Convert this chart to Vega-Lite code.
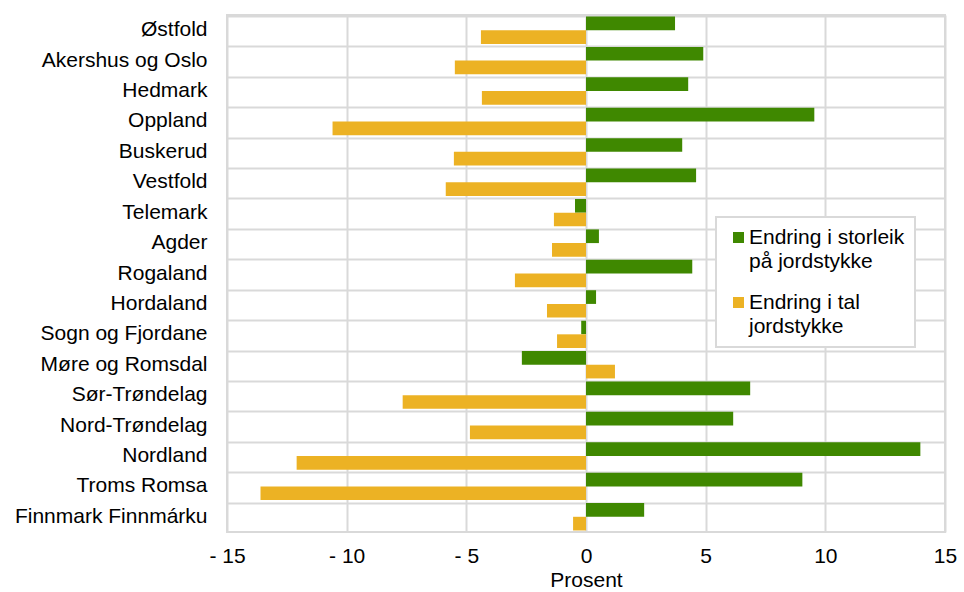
{
  "$schema": "https://vega.github.io/schema/vega-lite/v6.json",
  "width": 718,
  "height": 517,
  "autosize": "none",
  "padding": {"left": 227, "top": 15, "right": 19, "bottom": 60},
  "background": "white",
  "config": {
    "font": "Liberation Sans",
    "view": {"stroke": "#d9d9d9", "strokeWidth": 2}
  },
  "data": {
    "values": [
      {"fylke": "Østfold", "serie": "Endring i storleik på jordstykke", "v": 3.72},
      {"fylke": "Østfold", "serie": "Endring i tal jordstykke", "v": -4.39},
      {"fylke": "Akershus og Oslo", "serie": "Endring i storleik på jordstykke", "v": 4.9},
      {"fylke": "Akershus og Oslo", "serie": "Endring i tal jordstykke", "v": -5.48},
      {"fylke": "Hedmark", "serie": "Endring i storleik på jordstykke", "v": 4.27},
      {"fylke": "Hedmark", "serie": "Endring i tal jordstykke", "v": -4.35},
      {"fylke": "Oppland", "serie": "Endring i storleik på jordstykke", "v": 9.54},
      {"fylke": "Oppland", "serie": "Endring i tal jordstykke", "v": -10.59},
      {"fylke": "Buskerud", "serie": "Endring i storleik på jordstykke", "v": 4.02},
      {"fylke": "Buskerud", "serie": "Endring i tal jordstykke", "v": -5.52},
      {"fylke": "Vestfold", "serie": "Endring i storleik på jordstykke", "v": 4.6},
      {"fylke": "Vestfold", "serie": "Endring i tal jordstykke", "v": -5.86},
      {"fylke": "Telemark", "serie": "Endring i storleik på jordstykke", "v": -0.46},
      {"fylke": "Telemark", "serie": "Endring i tal jordstykke", "v": -1.34},
      {"fylke": "Agder", "serie": "Endring i storleik på jordstykke", "v": 0.54},
      {"fylke": "Agder", "serie": "Endring i tal jordstykke", "v": -1.42},
      {"fylke": "Rogaland", "serie": "Endring i storleik på jordstykke", "v": 4.44},
      {"fylke": "Rogaland", "serie": "Endring i tal jordstykke", "v": -2.97},
      {"fylke": "Hordaland", "serie": "Endring i storleik på jordstykke", "v": 0.42},
      {"fylke": "Hordaland", "serie": "Endring i tal jordstykke", "v": -1.63},
      {"fylke": "Sogn og Fjordane", "serie": "Endring i storleik på jordstykke", "v": -0.2},
      {"fylke": "Sogn og Fjordane", "serie": "Endring i tal jordstykke", "v": -1.21},
      {"fylke": "Møre og Romsdal", "serie": "Endring i storleik på jordstykke", "v": -2.68},
      {"fylke": "Møre og Romsdal", "serie": "Endring i tal jordstykke", "v": 1.21},
      {"fylke": "Sør-Trøndelag", "serie": "Endring i storleik på jordstykke", "v": 6.86},
      {"fylke": "Sør-Trøndelag", "serie": "Endring i tal jordstykke", "v": -7.66},
      {"fylke": "Nord-Trøndelag", "serie": "Endring i storleik på jordstykke", "v": 6.15},
      {"fylke": "Nord-Trøndelag", "serie": "Endring i tal jordstykke", "v": -4.85},
      {"fylke": "Nordland", "serie": "Endring i storleik på jordstykke", "v": 13.97},
      {"fylke": "Nordland", "serie": "Endring i tal jordstykke", "v": -12.09},
      {"fylke": "Troms Romsa", "serie": "Endring i storleik på jordstykke", "v": 9.04},
      {"fylke": "Troms Romsa", "serie": "Endring i tal jordstykke", "v": -13.6},
      {"fylke": "Finnmark Finnmárku", "serie": "Endring i storleik på jordstykke", "v": 2.43},
      {"fylke": "Finnmark Finnmárku", "serie": "Endring i tal jordstykke", "v": -0.54}
    ]
  },
  "mark": {"type": "bar"},
  "encoding": {
    "y": {
      "field": "fylke",
      "type": "nominal",
      "sort": null,
      "scale": {"paddingInner": 0.1, "paddingOuter": 0.05},
      "axis": {
        "title": null,
        "grid": true,
        "bandPosition": 0,
        "gridColor": "#d9d9d9",
        "gridWidth": 2,
        "domain": false,
        "ticks": false,
        "labelFontSize": 21,
        "labelColor": "#000000",
        "labelPadding": 20,
        "labelLimit": 300
      }
    },
    "yOffset": {
      "field": "serie",
      "type": "nominal",
      "sort": ["Endring i storleik på jordstykke", "Endring i tal jordstykke"],
      "scale": {"paddingInner": 0, "paddingOuter": 0}
    },
    "x": {
      "field": "v",
      "type": "quantitative",
      "scale": {"domain": [-15, 15], "nice": false, "zero": false},
      "axis": {
        "title": "Prosent",
        "titleFontSize": 21,
        "titleFontWeight": "normal",
        "titleColor": "#000000",
        "titlePadding": 3,
        "values": [-15, -10, -5, 0, 5, 10, 15],
        "labelExpr": "datum.value < 0 ? '- ' + abs(datum.value) : datum.label",
        "labelFontSize": 21,
        "labelColor": "#000000",
        "labelPadding": 13,
        "labelFlush": false,
        "labelOverlap": false,
        "grid": true,
        "gridColor": "#d9d9d9",
        "gridWidth": 2,
        "domain": false,
        "ticks": false
      }
    },
    "color": {
      "field": "serie",
      "type": "nominal",
      "scale": {
        "domain": ["Endring i storleik på jordstykke", "Endring i tal jordstykke"],
        "range": ["#3f8800", "#ecb224"]
      },
      "legend": {
        "title": null,
        "orient": "none",
        "legendX": 489,
        "legendY": 202,
        "labelExpr": "datum.label == 'Endring i storleik på jordstykke' ? ['Endring i storleik', 'på jordstykke'] : ['Endring i tal', 'jordstykke']",
        "labelFontSize": 21,
        "labelColor": "#000000",
        "symbolType": "square",
        "symbolSize": 121,
        "symbolStrokeWidth": 0,
        "symbolOffset": 2,
        "rowPadding": 19,
        "strokeColor": "#d9d9d9",
        "fillColor": "white",
        "padding": 10,
        "labelOffset": 0,
        "encode": {
          "legend": {"update": {"strokeWidth": {"value": 2}}},
          "labels": {"update": {"lineHeight": {"value": 24}}}
        }
      }
    }
  }
}
